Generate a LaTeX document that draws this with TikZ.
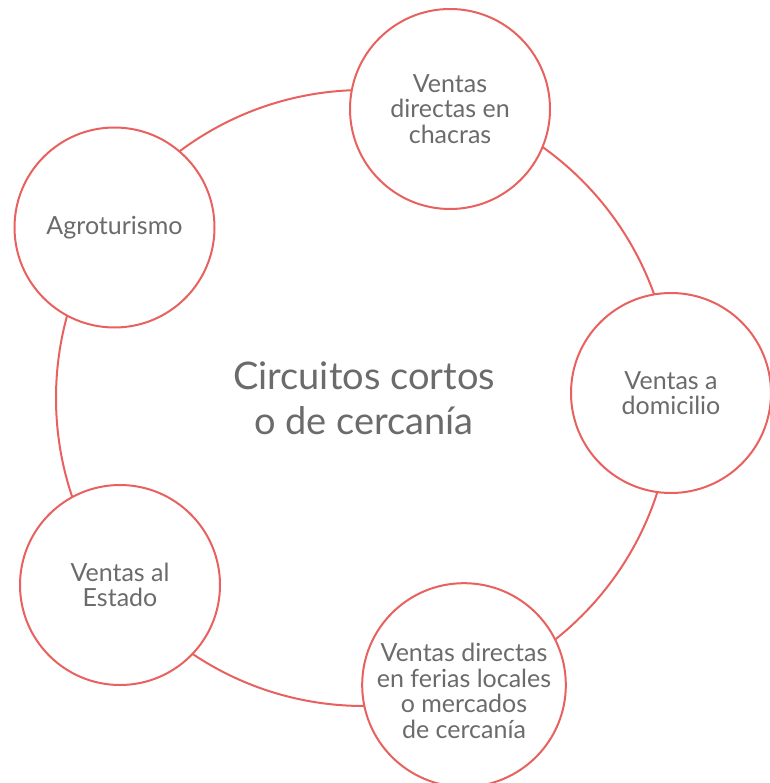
\documentclass[tikz,border=0pt]{standalone}
\usepackage{fontspec}
\setmainfont{Lato}
\definecolor{ringc}{HTML}{E8615F}
\definecolor{txtc}{HTML}{6B6B6B}
\begin{document}
\begin{tikzpicture}[x=1pt,y=-1pt,
  hubring/.style={circle, draw=ringc, line width=2pt, minimum size=616pt, inner sep=0pt,
    text=txtc, align=center, font=\fontsize{38}{45}\selectfont},
  spoke/.style={circle, draw=ringc, line width=2pt, fill=white, minimum size=200pt, inner sep=0pt,
    text=txtc, align=center, font=\fontsize{25}{25.5}\selectfont}]
\useasboundingbox (0,0) rectangle (769,783);
\node[hubring] (hub) at (364,398) {Circuitos cortos\\o de cercanía};
\node[spoke] (chacras) at (450,109) {Ventas\\directas en\\chacras};
\node[spoke] (domicilio) at (671,393) {Ventas a\\domicilio};
\node[spoke] (ferias) at (464,685) {\rule{0pt}{30pt}Ventas directas\\en ferias locales\\o mercados\\de cercanía};
\node[spoke] (estado) at (120,585) {Ventas al\\Estado};
\node[spoke] (agro) at (114.5,227.5) {Agroturismo};
\end{tikzpicture}
\end{document}
